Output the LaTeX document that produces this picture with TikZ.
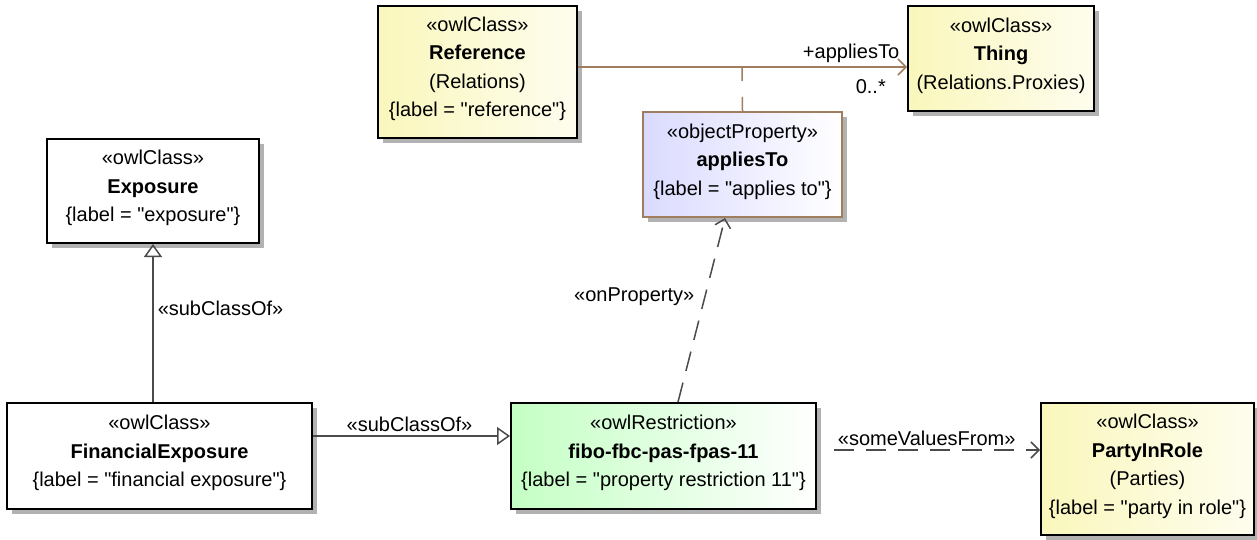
\documentclass[tikz,border=0pt]{standalone}
\usepackage{fontspec}
\setmainfont{Liberation Sans}
\usetikzlibrary{arrows.meta,shadows}

\definecolor{classyellow}{RGB}{250,247,188}
\definecolor{restrgreen}{RGB}{196,255,196}
\definecolor{proplilac}{RGB}{218,218,255}
\definecolor{assocbrown}{RGB}{160,125,95}
\definecolor{linegray}{RGB}{75,75,75}

\newcommand{\qq}[1]{\textquotedbl#1\textquotedbl}

\tikzset{
  umlbox/.style={draw=black, line width=1pt, align=center, inner sep=0pt,
    font=\fontsize{10}{14.25}\selectfont,
    execute at end node={\rule[-5pt]{0pt}{0pt}},
    drop shadow={shadow xshift=2.5pt, shadow yshift=-2.5pt, fill=black!30, opacity=1}},
  plainclass/.style={umlbox, fill=white},
  owlclass/.style={umlbox, left color=classyellow, right color=classyellow!25},
  owlrestr/.style={umlbox, left color=restrgreen, right color=white},
  objprop/.style={umlbox, draw=assocbrown, left color=proplilac, right color=white},
  conn/.style={draw=linegray, line width=0.75pt},
  gen/.style={conn, -{Triangle[open, length=6.5pt, width=9pt]}},
  dep/.style={conn, dash pattern=on 10pt off 6pt, -{Straight Barb[length=4pt, width=8pt]}},
  assoc/.style={draw=assocbrown, line width=0.75pt},
  lbl/.style={font=\fontsize{10}{12}\selectfont, inner sep=2pt}
}

\begin{document}
\begin{tikzpicture}[x=0.5pt, y=-0.5pt]
  \useasboundingbox (0,0) rectangle (1257,540);

  % classes
  \node[owlclass, minimum width=99.5pt, minimum height=66pt] (ref) at (477.5,72)
    {«owlClass»\\\textbf{Reference}\\(Relations)\\\{label = \qq{reference}\}};
  \node[owlclass, minimum width=93pt, minimum height=52.5pt] (thing) at (1001,58.5)
    {«owlClass»\\\textbf{Thing}\\(Relations.Proxies)};
  \node[objprop, minimum width=99.5pt, minimum height=52.5pt] (applies) at (742.5,164.5)
    {«objectProperty»\\\textbf{appliesTo}\\\{label = \qq{applies to}\}};
  \node[plainclass, minimum width=106pt, minimum height=52pt] (expo) at (153,191)
    {«owlClass»\\\textbf{Exposure}\\\{label = \qq{exposure}\}};
  \node[plainclass, minimum width=152.5pt, minimum height=53pt] (finexpo) at (159.5,456)
    {«owlClass»\\\textbf{FinancialExposure}\\\{label = \qq{financial exposure}\}};
  \node[owlrestr, minimum width=152.5pt, minimum height=53pt] (restr) at (663.5,456)
    {«owlRestriction»\\\textbf{fibo-fbc-pas-fpas-11}\\\{label = \qq{property restriction 11}\}};
  \node[owlclass, minimum width=106.5pt, minimum height=66pt] (party) at (1147.5,469)
    {«owlClass»\\\textbf{PartyInRole}\\(Parties)\\\{label = \qq{party in role}\}};

  % association with its property
  \draw[assoc, -{Straight Barb[length=4pt, width=8pt]}]
    ([yshift=2.5pt]ref.east) -- ([yshift=-4.25pt]thing.west)
    node[lbl, pos=0.83, above] {+appliesTo}
    node[lbl, pos=0.89, below, yshift=-4pt] {0..*};
  \coordinate (assocmid) at (742,67);
  \draw[assoc, dash pattern=on 7pt off 8pt] (assocmid) -- (applies.north);

  % generalisations
  \draw[gen] ([xshift=-3.25pt]finexpo.north) -- (expo.south)
    node[lbl, pos=0.59, right] {«subClassOf»};
  \draw[gen] ([yshift=10pt]finexpo.east) -- ([yshift=10pt]restr.west)
    node[lbl, pos=0.49, above] {«subClassOf»};

  % restriction links
  \draw[dep] ([xshift=7.25pt]restr.north) -- ([xshift=-8.75pt]applies.south)
    node[lbl, pos=0.575, left, xshift=-3pt] {«onProperty»};
  \draw[dep] ([xshift=8.5pt, yshift=3pt]restr.east) -- ([yshift=9.5pt]party.west)
    node[lbl, pos=0.45, above] {«someValuesFrom»};
\end{tikzpicture}
\end{document}
